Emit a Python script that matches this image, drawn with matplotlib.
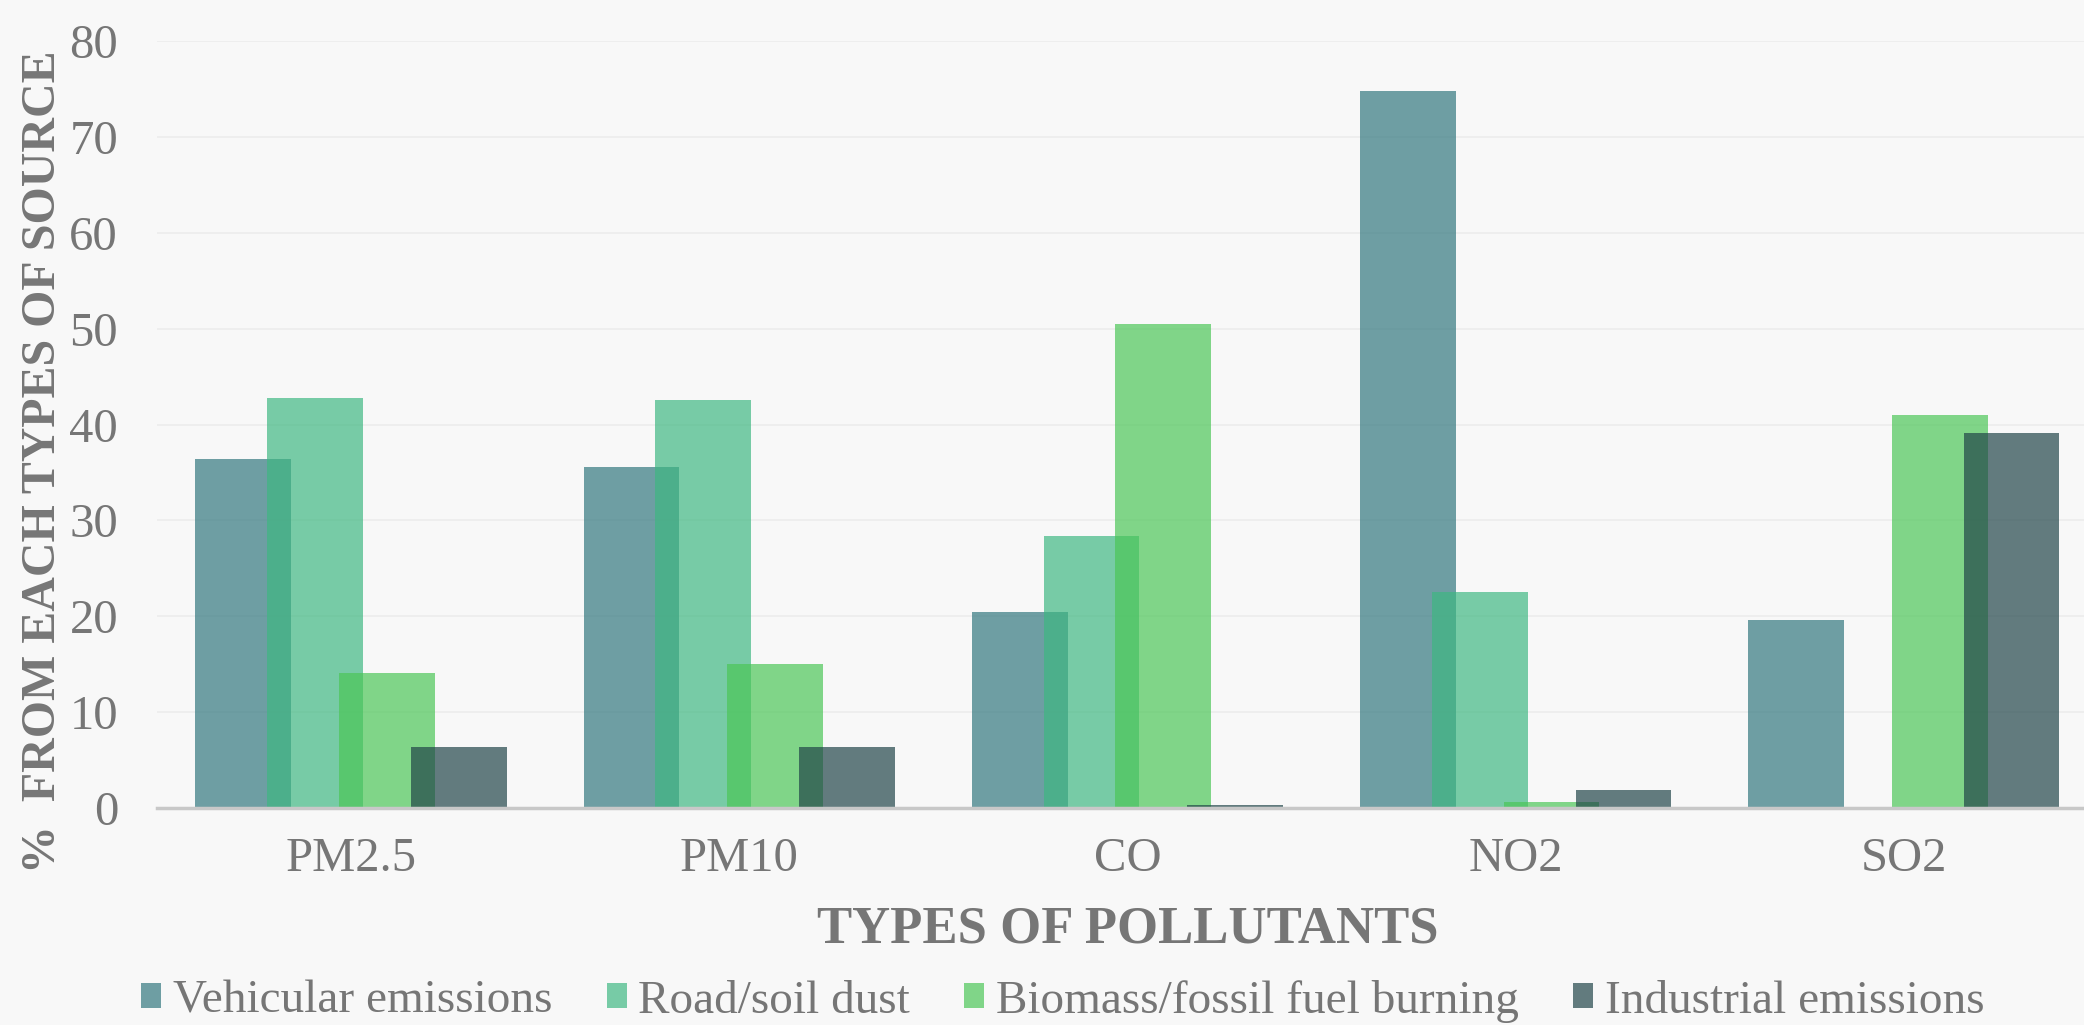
import matplotlib.pyplot as plt
import numpy as np

plt.rcParams['font.family'] = ['Liberation Serif', 'DejaVu Serif']

# data
pollutants = ['PM2.5', 'PM10', 'CO', 'NO2', 'SO2']
sources = ['Vehicular emissions', 'Road/soil dust', 'Biomass/fossil fuel burning', 'Industrial emissions']
vehicular = [36.4, 35.6, 20.4, 74.8, 19.6]
road_dust = [42.8, 42.6, 28.4, 22.5, 0.0]
biomass = [14.1, 15.0, 50.5, 0.6, 41.0]
industrial = [6.4, 6.4, 0.35, 1.9, 39.1]

colors = ['#30767d', '#3eb781', '#4ac656', '#1f4347']
grey = '#767676'

fig = plt.figure(figsize=(20.84, 10.25), dpi=100, facecolor='#f8f8f8')
ax = fig.add_axes([0.0753, 0.2117, 0.9314, 0.7483])
ax.set_facecolor('#f8f8f8')

x = np.arange(len(pollutants))
width = 0.2466
step = 0.185
series = [vehicular, road_dust, biomass, industrial]
for i, (vals, name, c) in enumerate(zip(series, sources, colors)):
    ax.bar(x + (i - 1.5) * step, vals, width, color=c, alpha=0.69, label=name,
           linewidth=0, zorder=3 + i)

ax.set_xlim(-0.5, 4.5)
ax.set_ylim(0, 80)
ax.set_yticks(range(0, 81, 10))
ax.set_xticks(x)
ax.set_xticklabels(pollutants)
ax.grid(axis='y', color='#ececec', linewidth=1.2, zorder=0)
ax.set_axisbelow(True)
for s in ['top', 'right', 'left']:
    ax.spines[s].set_visible(False)
ax.spines['bottom'].set_color('#c8c8c8')
ax.spines['bottom'].set_linewidth(2.5)
ax.spines['bottom'].set_zorder(10)
ax.tick_params(axis='both', length=0, labelsize=35, labelcolor=grey)
ax.tick_params(axis='y', pad=28)
ax.tick_params(axis='x', pad=21)

ax.set_xlabel('TYPES OF POLLUTANTS', fontsize=38, fontweight='bold', color=grey)
ax.xaxis.set_label_coords(0.5, -0.159)
ax.xaxis.label.set_va('center')
ax.set_ylabel('%  FROM EACH TYPES OF SOURCE', fontsize=34.5, fontweight='bold', color=grey)
ax.yaxis.set_label_coords(-0.0586, 0.452)
ax.yaxis.label.set_va('center')

leg = fig.legend(loc='center', bbox_to_anchor=(0.51, 0.0234), ncol=4, frameon=False,
                 fontsize=34, handlelength=0.42, handleheight=0.42,
                 handletextpad=0.25, columnspacing=1.15, borderaxespad=0)
for t in leg.get_texts():
    t.set_color(grey)

fig.savefig('out.png', dpi=100, facecolor=fig.get_facecolor())
